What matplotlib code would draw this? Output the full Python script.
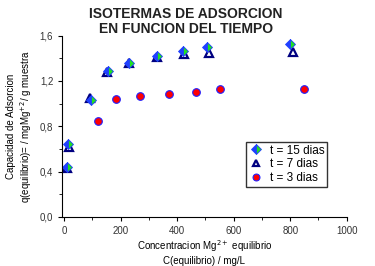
import matplotlib.pyplot as plt
from matplotlib.ticker import MultipleLocator, FuncFormatter

plt.rcParams['font.family'] = ['Liberation Sans', 'DejaVu Sans']

# t = 15 dias
c15 = [10, 14, 95, 155, 230, 330, 422, 504, 799]
q15 = [0.44, 0.643, 1.032, 1.285, 1.36, 1.42, 1.465, 1.503, 1.524]
# t = 7 dias
c7 = [10, 16, 92, 152, 228, 328, 425, 513, 811]
q7 = [0.43, 0.615, 1.045, 1.28, 1.36, 1.415, 1.436, 1.445, 1.453]
# t = 3 dias
c3 = [118, 183, 268, 372, 467, 551, 850]
q3 = [0.846, 1.043, 1.067, 1.085, 1.10, 1.126, 1.126]

fig = plt.figure(figsize=(3.75, 2.66), dpi=100)
ax = fig.add_axes([0.166, 0.185, 0.7585, 0.681])

ax.plot(c7, q7, linestyle='none', marker='^', markersize=5.5,
        markerfacecolor='white', markeredgecolor='#000080', markeredgewidth=1.6,
        label='t = 7 dias')
ax.plot(c15, q15, linestyle='none', marker='D', markersize=5.5,
        fillstyle='left', markerfacecolor='#2040ff', markerfacecoloralt='#20e020',
        markeredgecolor='#2040ff', markeredgewidth=0.6, label='t = 15 dias')
ax.plot(c3, q3, linestyle='none', marker='o', markersize=5.5,
        markerfacecolor='#ff0000', markeredgecolor='#2020ff', markeredgewidth=0.8,
        label='t = 3 dias')

ax.set_xlim(-7, 1000)
ax.set_ylim(0, 1.6)
ax.xaxis.set_major_locator(MultipleLocator(200))
ax.xaxis.set_minor_locator(MultipleLocator(100))
ax.yaxis.set_major_locator(MultipleLocator(0.4))
ax.yaxis.set_minor_locator(MultipleLocator(0.2))
ax.yaxis.set_major_formatter(FuncFormatter(lambda v, p: f'{v:.1f}'.replace('.', ',')))
ax.tick_params(which='major', direction='out', length=3, width=0.8,
               labelsize=7, colors='black', labelcolor='#333333')
ax.tick_params(which='minor', direction='out', length=2, width=0.6)
for s in ['top', 'right']:
    ax.spines[s].set_visible(False)

ax.set_xlabel('Concentracion Mg$^{2+}$ equilibrio\nC(equilibrio) / mg/L',
              fontsize=7, labelpad=2)
ax.set_ylabel('Capacidad de Adsorcion\nq(equilibrio)= / mgMg$^{+2}$/ g muestra',
              fontsize=7, labelpad=4)

fig.text(0.495, 0.975, 'ISOTERMAS DE ADSORCION\nEN FUNCION DEL TIEMPO',
         ha='center', va='top', fontsize=10, fontweight='bold', color='#222222',
         linespacing=1.1)

handles, labels = ax.get_legend_handles_labels()
order = [1, 0, 2]
leg = ax.legend([handles[i] for i in order], [labels[i] for i in order],
                loc='upper left', bbox_to_anchor=(0.645, 0.415), fontsize=8.5,
                frameon=True, fancybox=False, edgecolor='black',
                handlelength=1.2, handletextpad=0.6, borderpad=0.25,
                labelspacing=0.15, markerscale=0.9, borderaxespad=0)
leg.get_frame().set_linewidth(1.0)

fig.savefig('out.png', dpi=100)
